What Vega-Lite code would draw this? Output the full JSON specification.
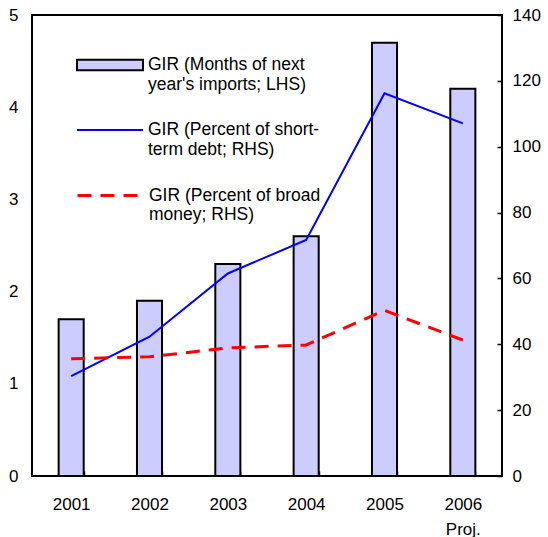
{
  "$schema": "https://vega.github.io/schema/vega-lite/v6.json",
  "width": 470,
  "height": 461,
  "autosize": "none",
  "padding": {"left": 32, "top": 15, "right": 46, "bottom": 61},
  "background": "white",
  "config": {
    "font": "Liberation Sans",
    "view": {"stroke": "black", "strokeWidth": 2},
    "axis": {
      "grid": false,
      "domain": false,
      "labelFont": "Liberation Sans",
      "labelFontSize": 17,
      "labelColor": "black",
      "tickColor": "black",
      "tickWidth": 1.5,
      "title": null
    },
    "legend": {
      "title": null,
      "orient": "none",
      "direction": "vertical",
      "labelFont": "Liberation Sans",
      "labelFontSize": 17.5,
      "labelColor": "black",
      "labelLimit": 400,
      "labelOffset": 4,
      "symbolSize": 4356,
      "symbolOpacity": 1
    }
  },
  "data": {
    "values": [
      {"year": "2001", "months": 1.7, "stdebt": 30.3, "broad": 35.6},
      {"year": "2002", "months": 1.9, "stdebt": 42.3, "broad": 36.2},
      {"year": "2003", "months": 2.3, "stdebt": 61.5, "broad": 38.9},
      {"year": "2004", "months": 2.6, "stdebt": 71.7, "broad": 39.8},
      {"year": "2005", "months": 4.7, "stdebt": 116.2, "broad": 50.3},
      {"year": "2006", "months": 4.2, "stdebt": 107.1, "broad": 41.3}
    ]
  },
  "encoding": {
    "x": {
      "field": "year",
      "type": "nominal",
      "scale": {"paddingInner": 0.68, "paddingOuter": 0.34},
      "axis": {
        "labelAngle": 0,
        "tickBand": "extent",
        "tickSize": -5,
        "labelPadding": 25,
        "labelExpr": "datum.label == '2006' ? ['2006', 'Proj.'] : datum.label",
        "labelLineHeight": 25
      }
    }
  },
  "layer": [
    {
      "mark": {"type": "bar", "stroke": "black", "strokeWidth": 2},
      "encoding": {
        "y": {
          "field": "months",
          "type": "quantitative",
          "scale": {"domain": [0, 5], "nice": false},
          "axis": {"orient": "left", "values": [0, 1, 2, 3, 4, 5], "ticks": false, "labelPadding": 14}
        },
        "fill": {
          "datum": "GIR (Months of next|year's imports; LHS)",
          "type": "nominal",
          "scale": {"range": ["#CCCCFF"]},
          "legend": {
            "legendX": 44,
            "legendY": 16,
            "labelExpr": "split(datum.label, '|')",
            "symbolType": "M-1,-0.16H1V0.16H-1Z",
            "symbolStrokeColor": "black",
            "symbolStrokeWidth": 2
          }
        }
      }
    },
    {
      "encoding": {
        "y": {
          "type": "quantitative",
          "scale": {"domain": [0, 140], "nice": false},
          "axis": {"orient": "right", "values": [0, 20, 40, 60, 80, 100, 120, 140], "tickSize": -5, "labelPadding": 15}
        }
      },
      "layer": [
        {
          "mark": {"type": "line", "strokeWidth": 2},
          "encoding": {
            "y": {"field": "stdebt", "type": "quantitative"},
            "stroke": {
              "datum": "GIR (Percent of short-|term debt; RHS)",
              "type": "nominal",
              "scale": {"range": ["#0000FF"]},
              "legend": {
                "legendX": 44,
                "legendY": 81,
                "labelExpr": "split(datum.label, '|')",
                "symbolType": "stroke",
                "symbolStrokeWidth": 2
              }
            }
          }
        },
        {
          "mark": {"type": "line", "color": "#FF0000", "strokeWidth": 3},
          "encoding": {
            "y": {"field": "broad", "type": "quantitative"},
            "strokeDash": {
              "datum": "GIR (Percent of broad|money; RHS)",
              "type": "nominal",
              "scale": {"range": [[14, 9]]},
              "legend": {
                "legendX": 44,
                "legendY": 146,
                "labelExpr": "split(datum.label, '|')",
                "symbolType": "stroke",
                "symbolStrokeColor": "#FF0000",
                "symbolStrokeWidth": 3
              }
            }
          }
        }
      ]
    }
  ],
  "resolve": {"scale": {"y": "independent"}, "axis": {"y": "independent"}}
}
